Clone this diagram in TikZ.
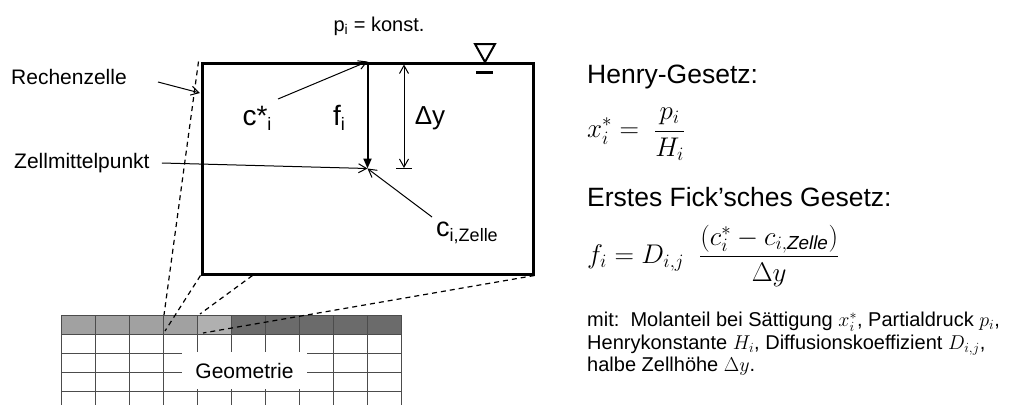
\RequirePackage{fix-cm}
\documentclass[tikz,border=0pt]{standalone}
\usepackage{fontspec}
\setmainfont{Liberation Sans}
\usetikzlibrary{arrows.meta, positioning, calc}

\newcommand{\lowsub}[1]{{\fontsize{18}{18}\selectfont\raisebox{-5pt}{#1}}}

\begin{document}
\begin{tikzpicture}[
        x=1pt, y=-1pt,
        >=Stealth,
        every node/.style={inner sep=0pt},
        lbl/.style={font=\fontsize{21}{24}\selectfont, anchor=west},
        big/.style={font=\fontsize{28}{32}\selectfont},
        head/.style={font=\fontsize{26.5}{30}\selectfont, anchor=west},
        eqn/.style={font=\fontsize{27}{32}\selectfont, anchor=west},
        note/.style={font=\fontsize{20}{22.5}\selectfont, anchor=north west, align=left},
        cellbox/.style={draw, line width=3pt, minimum width=331, minimum height=211},
        zoomline/.style={line width=1.2pt, dash pattern=on 5pt off 4pt},
        gridline/.style={line width=0.8pt, draw=black!70},
        arr/.style={-{Straight Barb[length=8pt, width=9pt, line width=1pt]}, line width=1pt},
        flux/.style={-{Triangle[length=10pt, width=8pt]}, line width=2pt},
        dim/.style={{Straight Barb[length=8pt, width=9pt]}-{Straight Barb[length=8pt, width=9pt]}, line width=1pt},
    ]
    \useasboundingbox (0,0) rectangle (1030,405);

    %% ===== Geometry grid =====
    \fill[black!37] (61,315) rectangle (197,334);
    \fill[black!31] (197,315) rectangle (232,334);
    \fill[black!58] (232,315) rectangle (401,334);
    \foreach \c in {0,...,10}
        \draw[gridline] (61+34*\c,315) -- (61+34*\c,405);
    \foreach \r in {315,334,353,372,391}
        \draw[gridline] (61,\r) -- (401,\r);
    \node[lbl, anchor=center, fill=white, minimum width=125, minimum height=37] (geo) at (244.5,370.5) {Geometrie};

    %% ===== Zoomed cell =====
    \node[cellbox] (cell) at (367.5,168.5) {};
    \coordinate (mid) at (cell.center);
    \coordinate (g1) at (164,315);
    \coordinate (g2) at (165,331);
    \coordinate (g3) at (200,314);
    \coordinate (g4) at (203,333);
    \draw[zoomline] ([xshift=-2pt]cell.north west) -- (g1);
    \draw[zoomline] (cell.south west) -- (g2);
    \draw[zoomline] ([xshift=52pt]cell.south west) -- (g3);
    \draw[zoomline] (cell.south east) -- (g4);

    %% water level
    \draw[line width=2pt, line join=miter] (475,44) -- (495,44) -- (485,62) -- cycle;
    \draw[line width=3pt] (476,72) -- (493,72);
    \node[font=\fontsize{20}{22}\selectfont] (pi) at (379,26) {p\textsubscript{i} = konst.};

    %% ===== Fluxes inside the cell =====
    \draw[flux] (cell.north) -- (mid);
    \node[big] (cstar) at (257,118) {c*\lowsub{i}};
    \coordinate (cstart) at (278,99);
    \draw[arr] (cstart) -- (cell.north);
    \node[big] (fi) at (339,118) {f\lowsub{i}};

    \coordinate (dytop) at (404,64.5);
    \coordinate (dybot) at (404,168);
    \draw[dim] (dytop) -- (dybot);
    \draw[line width=1pt] ([xshift=-8pt]dybot) -- ([xshift=8pt]dybot);
    \node[big, font=\fontsize{26}{30}\selectfont] (dy) at (430,118) {Δy};

    \node[big, font=\fontsize{27}{30}\selectfont] (czelle) at (467,233) {c\lowsub{i,Zelle}};
    \coordinate (czstart) at (432,217);
    \draw[arr] (czstart) -- (mid);

    %% ===== Labels left =====
    \node[lbl] (rz) at (11,77) {Rechenzelle};
    \coordinate (rzstart) at (158,82);
    \coordinate (rztip) at (200,93);
    \draw[arr] (rzstart) -- (rztip);

    \node[lbl] (zm) at (14,163) {Zellmittelpunkt};
    \draw[arr] ([xshift=12pt]zm.east) -- (mid);

    %% ===== Equations right =====
    \node[head] (henry) at (587,77) {Henry-Gesetz:};
    \node[eqn] (henryeq) at (587,134) {$\displaystyle x_i^* = \;\frac{p_i}{H_i}$};
    \node[head] (fick) at (587,197) {Erstes Fick’sches Gesetz:};
    \node[eqn] (fickeq) at (587,256) {$\displaystyle f_i = D_{i,j}\ \ \frac{\left(c_i^* - c_{i,\mathit{Zelle}}\right)}{\Delta y}$};
    \node[note] (mit) at (587,312) {mit:\ \ Molanteil bei Sättigung $x_i^*$, Partialdruck $p_i$,\\
        Henrykonstante $H_i$, Diffusionskoeffizient $D_{i,j}$,\\
        halbe Zellhöhe $\Delta y$.};

\end{tikzpicture}
\end{document}
